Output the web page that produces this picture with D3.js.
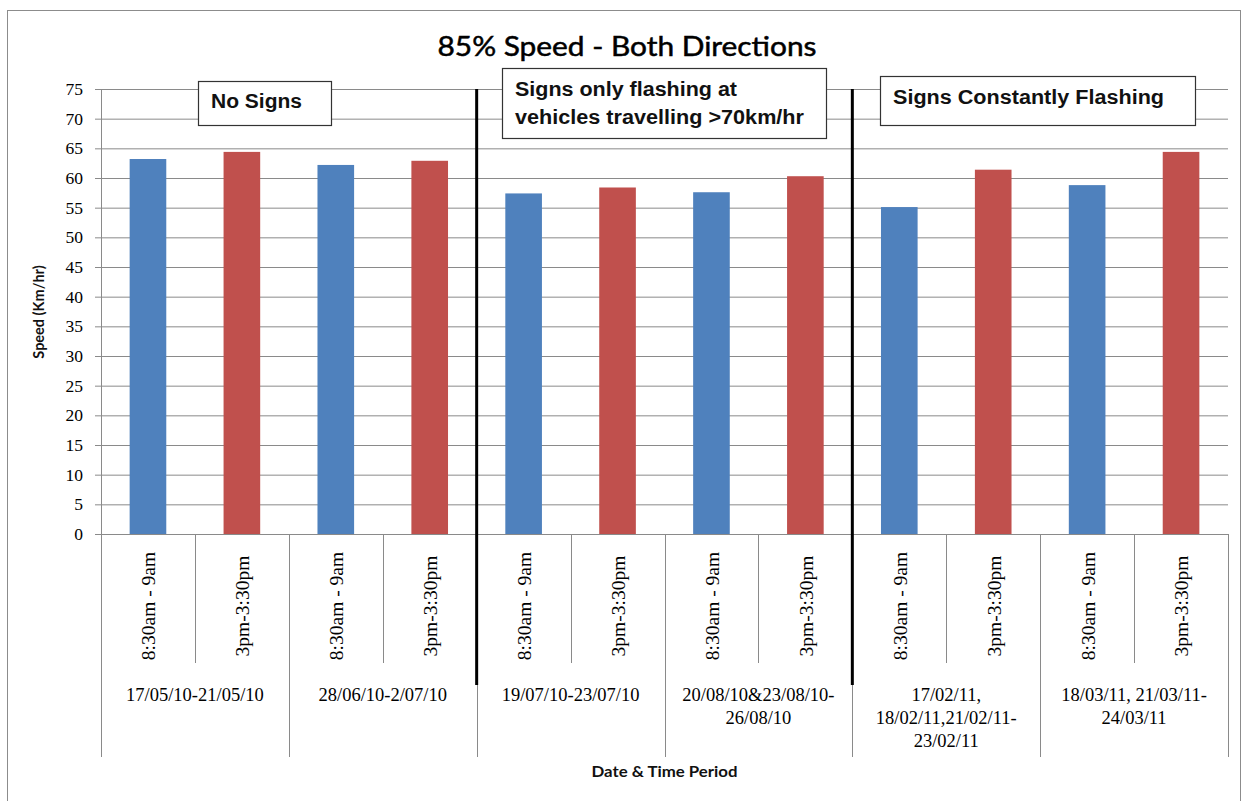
<!DOCTYPE html>
<html>
<head>
<meta charset="utf-8">
<script src="https://cdn.jsdelivr.net/npm/d3@7"></script>
<style>
  html, body { margin: 0; padding: 0; background: #fff; }
  svg { display: block; }
</style>
</head>
<body>
<svg id="chart" width="1248" height="801"></svg>
<script>
// 85th percentile speeds per sampling window (km/hr)
const timeSlots = ["8:30am - 9am", "3pm-3:30pm", "8:30am - 9am", "3pm-3:30pm",
                   "8:30am - 9am", "3pm-3:30pm", "8:30am - 9am", "3pm-3:30pm",
                   "8:30am - 9am", "3pm-3:30pm", "8:30am - 9am", "3pm-3:30pm"];
const speeds = [63.2, 64.4, 62.2, 62.9, 57.4, 58.4, 57.6, 60.3, 55.1, 61.4, 58.8, 64.4];
const periods = [
  ["17/05/10-21/05/10"],
  ["28/06/10-2/07/10"],
  ["19/07/10-23/07/10"],
  ["20/08/10&23/08/10-", "26/08/10"],
  ["17/02/11,", "18/02/11,21/02/11-", "23/02/11"],
  ["18/03/11, 21/03/11-", "24/03/11"]
];
const yTicks = [0, 5, 10, 15, 20, 25, 30, 35, 40, 45, 50, 55, 60, 65, 70, 75];
const phases = [
  { label: ["No Signs"], start: 0 },
  { label: ["Signs only flashing at", "vehicles travelling >70km/hr"], start: 4 },
  { label: ["Signs Constantly Flashing"], start: 8 }
];

const COLORS = { am: "#4F81BD", pm: "#C0504D" };
const svg = d3.select("#chart");

const plot = { left: 101, right: 1228, top: 89, bottom: 534 };

const y = d3.scaleLinear().domain([0, 75]).range([plot.bottom, plot.top]);
const x = d3.scaleBand().domain(d3.range(timeSlots.length))
  .range([plot.left, plot.right]).padding(0);
const step = x.bandwidth();
const barW = step * 0.39;

// outer chart frame
svg.append("rect")
  .attr("x", 7.5).attr("y", 10.5).attr("width", 1233).attr("height", 800)
  .attr("fill", "#fff").attr("stroke", "#8c8c8c").attr("stroke-width", 1);

// title
svg.append("text")
  .attr("x", 627).attr("y", 56)
  .attr("text-anchor", "middle")
  .attr("font-family", "Lato, 'Open Sans', sans-serif")
  .attr("font-size", 27)
  .attr("textLength", 379).attr("lengthAdjust", "spacingAndGlyphs")
  .attr("fill", "#000").attr("stroke", "#000").attr("stroke-width", 0.5)
  .text("85% Speed - Both Directions");

// gridlines
svg.append("g")
  .attr("transform", `translate(${plot.left},0)`)
  .call(d3.axisLeft(y).tickValues(yTicks.filter(v => v > 0))
    .tickSize(-(plot.right - plot.left)).tickFormat(""))
  .call(g => g.select(".domain").remove())
  .call(g => g.selectAll("line").attr("stroke", "#8a8a8a").attr("stroke-width", 1));

// y axis
svg.append("g")
  .attr("transform", `translate(${plot.left},0)`)
  .call(d3.axisLeft(y).tickValues(yTicks).tickSize(6).tickPadding(12))
  .call(g => g.select(".domain").attr("stroke", "#8a8a8a"))
  .call(g => g.selectAll("line").attr("stroke", "#8a8a8a"))
  .call(g => g.selectAll("text")
    .attr("font-family", "'Liberation Serif', 'Times New Roman', serif")
    .attr("font-size", 17.5).attr("fill", "#000"));

// y axis title
svg.append("text")
  .attr("transform", "translate(44,312) rotate(-90)")
  .attr("text-anchor", "middle")
  .attr("font-family", "Lato, 'Open Sans', sans-serif")
  .attr("font-weight", "bold")
  .attr("font-size", 14.5)
  .attr("fill", "#111")
  .text("Speed (Km/hr)");

// bars
svg.append("g").selectAll("rect")
  .data(speeds)
  .join("rect")
  .attr("x", (d, i) => x(i) + step / 2 - barW / 2)
  .attr("width", barW)
  .attr("y", d => y(d))
  .attr("height", d => y(0) - y(d))
  .attr("fill", (d, i) => i % 2 === 0 ? COLORS.am : COLORS.pm);

// category axis: baseline, inner ticks, group ticks
const axisG = svg.append("g").attr("stroke", "#8a8a8a").attr("stroke-width", 1);
axisG.append("line")
  .attr("x1", plot.left).attr("x2", plot.right)
  .attr("y1", y(0) + 0.5).attr("y2", y(0) + 0.5);
d3.range(timeSlots.length + 1).forEach(i => {
  const xp = Math.round(i === timeSlots.length ? plot.right : x(i)) + 0.5;
  const isGroup = i % 2 === 0;
  axisG.append("line")
    .attr("x1", xp).attr("x2", xp)
    .attr("y1", y(0)).attr("y2", isGroup ? 757 : 663);
});

// time slot labels (rotated)
svg.append("g").selectAll("text")
  .data(timeSlots)
  .join("text")
  .attr("transform", (d, i) => `translate(${x(i) + step / 2 + 1},606) rotate(-90)`)
  .attr("text-anchor", "middle")
  .attr("dy", "0.33em")
  .attr("font-family", "'Liberation Serif', 'Times New Roman', serif")
  .attr("font-size", 19.5)
  .attr("fill", "#000")
  .text(d => d);

// date period labels
const periodG = svg.append("g");
periods.forEach((lines, gi) => {
  const cx = x(gi * 2) + step;
  const t = periodG.append("text")
    .attr("text-anchor", "middle")
    .attr("font-family", "'Liberation Serif', 'Times New Roman', serif")
    .attr("font-size", 18.5)
    .attr("fill", "#000");
  lines.forEach((ln, li) => {
    t.append("tspan").attr("x", cx).attr("y", 701 + li * 23).text(ln);
  });
});

// x axis title
svg.append("text")
  .attr("x", (plot.left + plot.right) / 2).attr("y", 777)
  .attr("text-anchor", "middle")
  .attr("font-family", "Lato, 'Open Sans', sans-serif")
  .attr("font-weight", "bold")
  .attr("font-size", 15)
  .attr("textLength", 146).attr("lengthAdjust", "spacingAndGlyphs")
  .attr("fill", "#111")
  .text("Date & Time Period");

// phase separators
phases.slice(1).forEach(p => {
  const xp = x(p.start);
  svg.append("line")
    .attr("x1", xp).attr("x2", xp)
    .attr("y1", plot.top).attr("y2", 685)
    .attr("stroke", "#000").attr("stroke-width", 3);
});

// phase annotation boxes
const boxes = [
  { x: 198, y: 81, w: 133, h: 44, widths: [91], base: [108] },
  { x: 502, y: 68, w: 324, h: 70, widths: [222, 289], base: [96, 124] },
  { x: 880, y: 76, w: 315, h: 49, widths: [271], base: [104] }
];
phases.forEach((p, i) => {
  const b = boxes[i];
  svg.append("rect")
    .attr("x", b.x + 0.5).attr("y", b.y + 0.5)
    .attr("width", b.w).attr("height", b.h)
    .attr("fill", "#fff").attr("stroke", "#333").attr("stroke-width", 1.2);
  p.label.forEach((ln, li) => {
    svg.append("text")
      .attr("x", b.x + 13).attr("y", b.base[li])
      .attr("font-family", "'Liberation Sans', Arial, sans-serif")
      .attr("font-weight", "bold")
      .attr("font-size", 19.5)
      .attr("textLength", b.widths[li]).attr("lengthAdjust", "spacingAndGlyphs")
      .attr("fill", "#111")
      .text(ln);
  });
});
</script>
</body>
</html>
